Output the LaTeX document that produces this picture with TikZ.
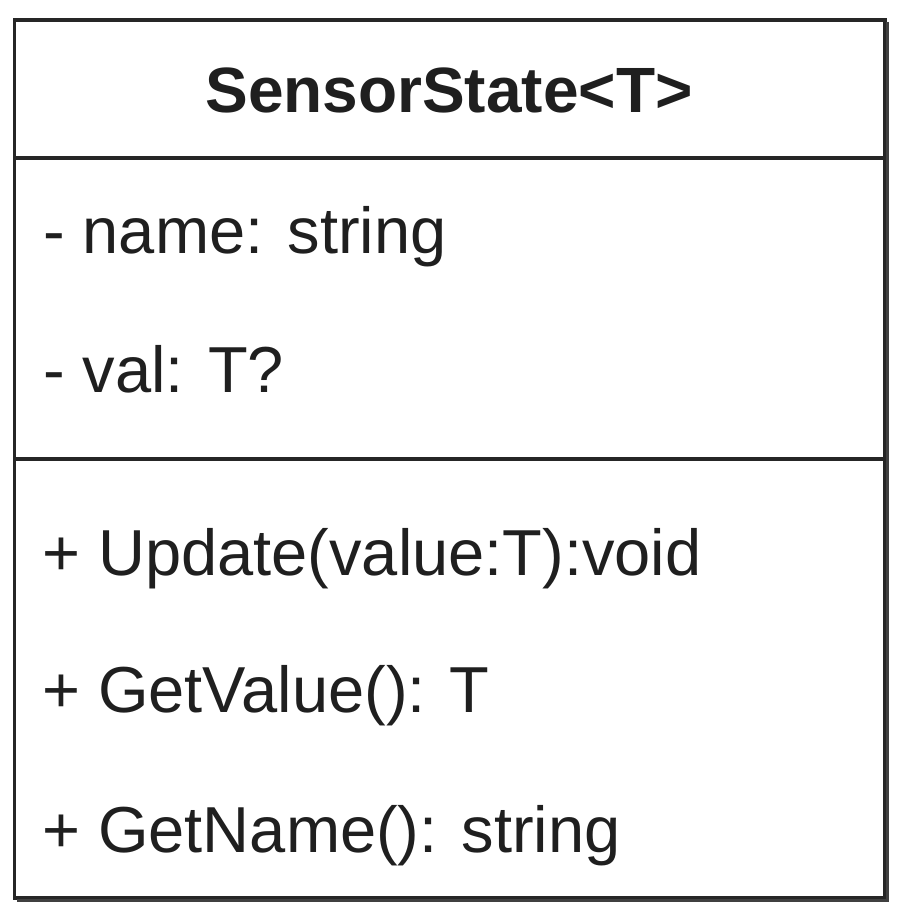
\documentclass[tikz,border=0pt]{standalone}
\usepackage{fontspec}
\setmainfont{Liberation Sans}
\begin{document}
\begin{tikzpicture}[x=1pt,y=-1pt,
  member/.style={anchor=base west,inner sep=0pt,text=black!88,font=\fontsize{65}{78}\selectfont},
  title/.style={anchor=base,inner sep=0pt,text=black!88,font=\fontsize{64}{78}\selectfont\bfseries},
  frame/.style={draw=black!85,line width=3.5pt}]
\useasboundingbox (0,0) rectangle (906,917);
% class box
\draw[frame] (14.5,20) rectangle (885,898);
% shadow thickening on right and bottom
\draw[black!75,line width=3pt] (887.5,22) -- (887.5,900.5) -- (17,900.5);
% compartment separators
\coordinate (s1l) at (14.5,158);
\coordinate (s1r) at (885,158);
\coordinate (s2l) at (14.5,459);
\coordinate (s2r) at (885,459);
\draw[frame] (s1l) -- (s1r);
\draw[frame] (s2l) -- (s2r);
% title
\node[title] (ttl) at (449,113) {SensorState<T>};
% attributes
\node[member] (a1) at (43,253) {- name: string};
\node[member] (a2) at (43,392) {- val: T?};
% operations
\node[member] (m1) at (42,575) {+ Update(value:T):void};
\node[member] (m2) at (42,712) {+ GetValue(): T};
\node[member] (m3) at (42,852) {+ GetName(): string};
\end{tikzpicture}
\end{document}
